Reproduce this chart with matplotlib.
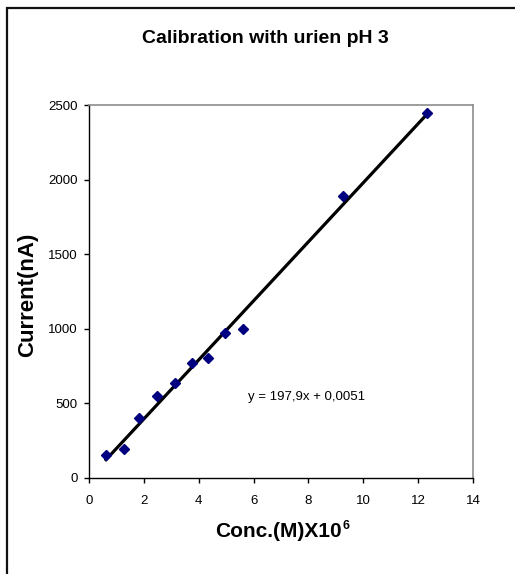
import numpy as np
import matplotlib
matplotlib.use("Agg")
import matplotlib.pyplot as plt
from matplotlib.patches import Rectangle

# data
conc = [0.62, 1.29, 1.84, 2.49, 3.12, 3.77, 4.34, 4.97, 5.60, 9.25, 12.31]
current = [154, 194, 404, 550, 634, 769, 802, 974, 999, 1892, 2449]

# trendline given on the chart
slope = 197.9
intercept = 0.0051
eq_label = "y = 197,9x + 0,0051"

xticks = [0, 2, 4, 6, 8, 10, 12, 14]
yticks = [0, 500, 1000, 1500, 2000, 2500]

plt.rcParams['font.family'] = ['Liberation Sans', 'DejaVu Sans']

fig = plt.figure(figsize=(5.15, 5.74), dpi=100)
ax = fig.add_axes([89/515, 1 - 478/574, 384/515, 373/574])

# outer frame (only left and top edges visible in the picture)
fig.patches.append(Rectangle((7/515, -0.5), 2.0, 0.5 + 1 - 8/574,
                             transform=fig.transFigure, fill=False,
                             edgecolor='#111111', linewidth=1.6))

# trend line over data range
xs = np.array([min(conc), max(conc)])
ax.plot(xs, slope*xs + intercept, color='black', linewidth=2.3, zorder=2)

# points
ax.plot(conc, current, linestyle='none', marker='D', markersize=5.6,
        color='#000080', markeredgecolor='#000080', zorder=3)

ax.text(5.8, 543, eq_label, fontsize=9.5, ha='left', va='center')

ax.set_xlim(0, 14)
ax.set_ylim(0, 2500)
ax.set_xticks(xticks)
ax.set_yticks(yticks)
ax.tick_params(direction='out', length=3.6, width=1, labelsize=9.5)
ax.tick_params(axis='x', pad=9)
ax.tick_params(axis='y', pad=4.3)

for s in ['top', 'right']:
    ax.spines[s].set_color('#8c8c8c')
    ax.spines[s].set_linewidth(1.2)
for s in ['left', 'bottom']:
    ax.spines[s].set_color('black')
    ax.spines[s].set_linewidth(1.0)

ax.set_title("Calibration with urien pH 3", fontsize=14, fontweight='bold',
             x=(265-89)/384, y=1 + (105-38)/373, va='center', pad=0)
ax.set_xlabel("Conc.(M)X10", fontsize=15, fontweight='bold')
ax.xaxis.set_label_coords((278-89)/384, (478-522)/373)
# small superscript like the original
ax.text((342.5-89)/384, (478-520)/373, "6", transform=ax.transAxes,
        fontsize=9, fontweight='bold', ha='left', va='top')
ax.set_ylabel("Current(nA)", fontsize=16, fontweight='bold')
ax.yaxis.set_label_coords((38-89)/384, (478-295)/373)

fig.savefig("out.png", dpi=100)
